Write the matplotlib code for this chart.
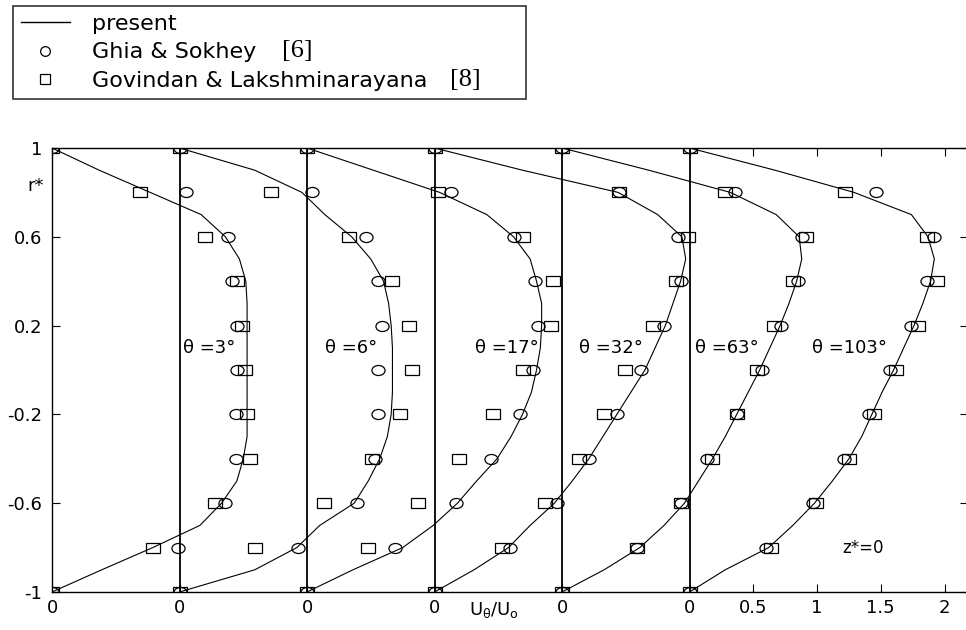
import numpy as np
import matplotlib
matplotlib.use("Agg")
import matplotlib.pyplot as plt
from matplotlib.lines import Line2D
from matplotlib.markers import MarkerStyle
from matplotlib.transforms import Affine2D

# ---------------- data ----------------
theta_deg = [3, 6, 17, 32, 63, 103]

r_curve = [1, 0.9, 0.8, 0.7, 0.6, 0.5, 0.4, 0.3, 0.2, 0.1, 0,
           -0.1, -0.2, -0.3, -0.4, -0.5, -0.6, -0.7, -0.8, -0.9, -1]
r_data = [1, 0.8, 0.6, 0.4, 0.2, 0, -0.2, -0.4, -0.6, -0.8, -1]

present_t3 = [0, 0.37, 0.77, 1.17, 1.36, 1.47, 1.52, 1.53, 1.53, 1.53, 1.53,
              1.53, 1.53, 1.53, 1.50, 1.45, 1.33, 1.16, 0.79, 0.39, 0]
present_t6 = [0, 0.59, 0.96, 1.14, 1.35, 1.50, 1.60, 1.64, 1.66, 1.67, 1.67,
              1.67, 1.66, 1.63, 1.57, 1.48, 1.37, 1.10, 0.92, 0.59, 0]
present_t17 = [0, 0.52, 1.04, 1.41, 1.62, 1.75, 1.80, 1.84, 1.84, 1.83, 1.80,
               1.76, 1.69, 1.60, 1.49, 1.33, 1.18, 0.99, 0.75, 0.36, 0]
present_t32 = [0, 0.69, 1.44, 1.75, 1.94, 1.97, 1.93, 1.87, 1.81, 1.73, 1.65,
               1.54, 1.43, 1.32, 1.21, 1.08, 0.94, 0.75, 0.58, 0.31, 0]
present_t63 = [0, 0.68, 1.32, 1.68, 1.86, 1.88, 1.84, 1.78, 1.71, 1.63, 1.55,
               1.46, 1.37, 1.28, 1.18, 1.07, 0.96, 0.80, 0.61, 0.33, 0]
present_t103 = [0, 0.67, 1.29, 1.74, 1.87, 1.92, 1.89, 1.83, 1.76, 1.68, 1.60,
                1.51, 1.43, 1.35, 1.25, 1.12, 0.98, 0.81, 0.62, 0.28, 0]

ghia_t3 = [0, 1.05, 1.38, 1.41, 1.45, 1.45, 1.44, 1.44, 1.36, 0.99, 0]
ghia_t6 = [0, 1.04, 1.46, 1.56, 1.59, 1.56, 1.56, 1.53, 1.39, 0.93, 0]
ghia_t17 = [0, 1.13, 1.62, 1.79, 1.81, 1.77, 1.67, 1.44, 1.17, 0.69, 0]
ghia_t32 = [0, 1.45, 1.91, 1.93, 1.80, 1.62, 1.43, 1.21, 0.96, 0.59, 0]
ghia_t63 = [0, 1.36, 1.88, 1.85, 1.72, 1.57, 1.37, 1.14, 0.93, 0.59, 0]
ghia_t103 = [0, 1.46, 1.92, 1.86, 1.74, 1.57, 1.41, 1.21, 0.97, 0.60, 0]

govindan_t3 = [0, 0.69, 1.20, 1.45, 1.49, 1.51, 1.53, 1.55, 1.28, 0.79, 0]
govindan_t6 = [0, 0.72, 1.33, 1.67, 1.80, 1.82, 1.73, 1.51, 1.13, 0.59, 0]
govindan_t17 = [0, 1.03, 1.69, 1.93, 1.91, 1.69, 1.46, 1.19, 0.87, 0.48, 0]
govindan_t32 = [0, 1.45, 1.99, 1.89, 1.71, 1.49, 1.33, 1.13, 0.87, 0.53, 0]
govindan_t63 = [0, 1.28, 1.91, 1.81, 1.66, 1.53, 1.37, 1.18, 0.93, 0.59, 0]
govindan_t103 = [0, 1.22, 1.86, 1.94, 1.79, 1.62, 1.45, 1.25, 0.99, 0.64, 0]

present = [present_t3, present_t6, present_t17, present_t32, present_t63, present_t103]
ghia = [ghia_t3, ghia_t6, ghia_t17, ghia_t32, ghia_t63, ghia_t103]
govindan = [govindan_t3, govindan_t6, govindan_t17, govindan_t32, govindan_t63, govindan_t103]

last_profile_ticks = [0.5, 1, 1.5, 2]
y_ticks = [1, 0.6, 0.2, -0.2, -0.6, -1]
y_ticklabels = ["1", "0.6", "0.2", "-0.2", "-0.6", "-1"]
legend_labels = ["present", "Ghia & Sokhey", "Govindan & Lakshminarayana"]
legend_refs = ["", "[6]", "[8]"]

# ---------------- styling / layout ----------------
plt.rcParams['font.family'] = ['DejaVu Sans']
plt.rcParams['mathtext.default'] = 'regular'

W, H = 966, 630
fig = plt.figure(figsize=(W / 100, H / 100), dpi=100)
ax = fig.add_axes([52 / W, 38 / H, 915.5 / W, 444 / H])

m_circle = MarkerStyle('o', transform=Affine2D().scale(1.15, 0.88))
m_square = MarkerStyle('s', transform=Affine2D().scale(1.15, 0.85))

n = len(theta_deg)
for i in range(n):
    off = i  # each profile shifted by one unit of U_theta/U_o
    ax.plot(off + np.array(present[i]), r_curve, color='k', lw=0.8, zorder=3)
    ax.plot(off + np.array(ghia[i]), r_data, ls='none', marker=m_circle, ms=8.2,
            mfc='none', mec='k', mew=0.9, zorder=4)
    ax.plot(off + np.array(govindan[i]), r_data, ls='none', marker=m_square, ms=8.2,
            mfc='none', mec='k', mew=0.9, zorder=4)

ax.vlines(list(range(1, n)), -1, 1, color='k', lw=1.3, zorder=2)

ax.set_xlim(0, 7.18)
ax.set_ylim(-1, 1)

xt = list(range(n)) + [(n - 1) + t for t in last_profile_ticks]
ax.set_xticks(xt)
ax.set_xticklabels(["0"] * n + [f"{t:g}" for t in last_profile_ticks])
ax.set_yticks(y_ticks)
ax.set_yticklabels(y_ticklabels)
ax.tick_params(direction='in', top=True, right=True, length=6, width=0.8,
               labelsize=13, colors='k')
ax.tick_params(axis='y', pad=7)
ax.tick_params(axis='x', pad=5)
for s in ax.spines.values():
    s.set_linewidth(1.0)
    s.set_color('k')

# theta labels
theta_label_x = [1.03, 2.14, 3.32, 4.13, 5.04, 5.96]
for t, x in zip(theta_deg, theta_label_x):
    ax.text(x, 0.1, f"θ ={t}°", fontsize=13, ha='left', va='center')

ax.text(6.2, -0.8, "z*=0", fontsize=12, ha='left', va='center')
ax.text(-0.19, 0.83, "r*", fontsize=13, ha='left', va='center')

ax.set_xlabel(r"$U_{\theta}/U_{o}$", fontsize=13)
ax.xaxis.set_label_coords(0.483, -0.018)

# legend
handles = [
    Line2D([], [], color='k', lw=1.0),
    Line2D([], [], ls='none', marker='o', ms=7, mfc='none', mec='k', mew=0.9),
    Line2D([], [], ls='none', marker='s', ms=6.5, mfc='none', mec='k', mew=0.9),
]
leg = fig.legend(handles, legend_labels, loc='upper left',
                 bbox_to_anchor=(13 / W, 1 - 6 / H, 513 / W, 0.0),
                 mode='expand', borderaxespad=0, fontsize=16, frameon=True,
                 fancybox=False, shadow=False, handlelength=2.2,
                 handletextpad=1.0, labelspacing=0.38, borderpad=0.36,
                 numpoints=1)
leg.set_zorder(5)
leg.get_frame().set_edgecolor('#333333')
leg.get_frame().set_linewidth(1.2)
leg.get_frame().set_alpha(1)

# serif reference numbers next to the legend entries
fig.canvas.draw()
renderer = fig.canvas.get_renderer()
ref_x = {1: 282, 2: 450}
for k in (1, 2):
    bb = leg.get_texts()[k].get_window_extent(renderer)
    yc = (bb.y0 + bb.y1) / 2.0
    fig.text(ref_x[k] / W, yc / H + 1.0 / H, legend_refs[k], family='Liberation Serif',
             fontsize=19, ha='left', va='center', zorder=20)

fig.savefig("out.png", dpi=100, facecolor='white')
